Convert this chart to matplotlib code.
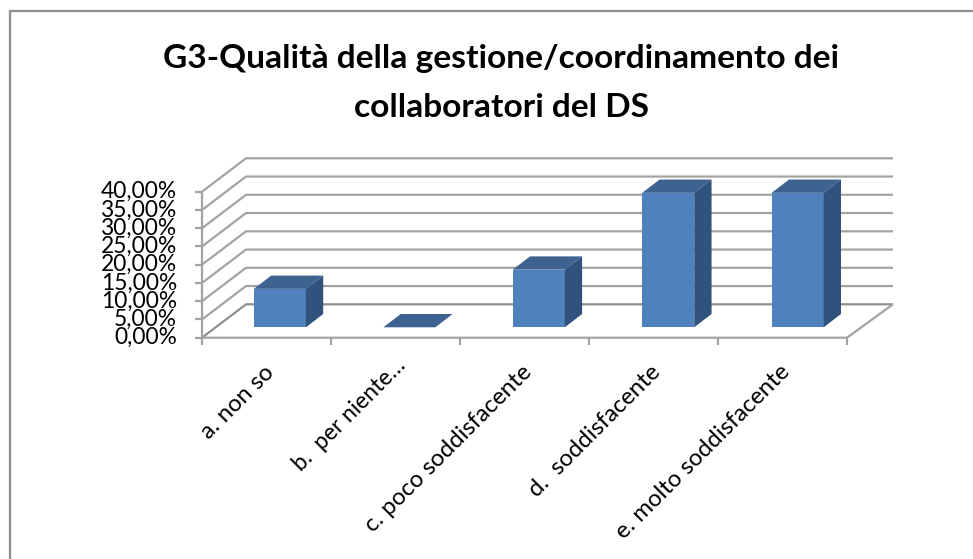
import matplotlib
matplotlib.use("Agg")
import matplotlib.pyplot as plt
from matplotlib.lines import Line2D
from matplotlib.patches import Polygon

categories = ["a. non so", "b.  per niente…", "c. poco soddisfacente",
              "d.  soddisfacente", "e. molto soddisfacente"]
values = [10.53, 0.0, 15.79, 36.84, 36.84]
y_ticks = [0, 5, 10, 15, 20, 25, 30, 35, 40]
y_labels = ["0,00%", "5,00%", "10,00%", "15,00%", "20,00%",
            "25,00%", "30,00%", "35,00%", "40,00%"]
title = "G3-Qualità della gestione/coordinamento dei\ncollaboratori del DS"

W, H = 973, 559
plt.rcParams['font.family'] = ['Lato', 'DejaVu Sans']
fig = plt.figure(figsize=(W / 100, H / 100), dpi=100)

# chart frame: only top and left edges fall inside the picture
fig.add_artist(Line2D([10 / W, 10 / W, 1.0], [0.0, 1 - 11.2 / H, 1 - 11.2 / H],
                      transform=fig.transFigure, color="#8F8F8F", lw=1.6,
                      solid_joinstyle="miter"))

L, R, T, B = 202, 847, 191.7, 337.7
ax = fig.add_axes([L / W, 1 - B / H, (R - L) / W, (B - T) / H])
ax.set_xlim(-0.5, 4.5)
ax.set_ylim(0, 40)
ax.axis("off")

ux = (R - L) / 5           # px per category
uy = (B - T) / 40          # px per value unit
dx_l, dx_r, dy = 44 / ux, 46 / ux, 33.4 / uy   # depth of the chart box
bx, by = 13.4 / ux, 10.4 / uy          # bar front-face offset
bdx, bdy = 17.3 / ux, 13.3 / uy        # bar depth
bw = 52 / ux
spread = 0.45 / ux

grid = "#A3A3A3"
kw = dict(color=grid, lw=1.6, clip_on=False, solid_capstyle="butt", zorder=1)
for v in y_ticks:
    ax.plot([-0.5, -0.5 + dx_l, 4.5 + dx_r], [v, v + dy, v + dy],
            **{**kw, "color": "#8F8F8F" if v == 0 else grid})
ax.plot([-0.5, -0.5], [0, 40], **kw)
ax.plot([-0.5, 4.5, 4.5 + dx_r], [0, 0, dy], **kw)

# ticks
tk = 7 / ux
tk_y = 7 / uy
for v, lab in zip(y_ticks, y_labels):
    ax.plot([-0.5 - tk, -0.5], [v, v], **kw)
    ax.text(-0.5 - 25 / ux, v, lab, ha="right", va="center", fontsize=16.4,
            color="#000000", clip_on=False)
for i in range(6):
    ax.plot([i - 0.5, i - 0.5], [0, -tk_y], **kw)

# bars
front, top_c, side_c = "#4F81BD", "#3E6391", "#31527C"
xs = [i + bx + i * spread for i in range(len(values))]
ax.bar(xs, values, width=bw, bottom=by, color=front, linewidth=0, clip_on=False, zorder=3)
for x, v in zip(xs, values):
    x0, x1, y0, y1 = x - bw / 2, x + bw / 2, by, by + v
    ax.add_patch(Polygon([(x0, y1), (x1, y1), (x1 + bdx, y1 + bdy), (x0 + bdx, y1 + bdy)],
                         closed=True, color=top_c, lw=0, clip_on=False, zorder=3))
    if v > 0:
        ax.add_patch(Polygon([(x1, y0), (x1 + bdx, y0 + bdy), (x1 + bdx, y1 + bdy), (x1, y1)],
                             closed=True, color=side_c, lw=0, clip_on=False, zorder=3))

# category labels (the truncated one sits higher and runs shorter in the original)
for i, c in enumerate(categories):
    truncated = c.endswith("…")
    ox, oy, fs = (7, -24, 16.4) if truncated else (4, -31, 17.2)
    ax.text(i + ox / ux, oy / uy, c, rotation=45, rotation_mode="anchor", ha="right", va="center",
            fontsize=fs, color="#000000", clip_on=False)

fig.text(501 / W, 1 - 83 / H, title, ha="center", va="center", fontsize=24.1,
         fontweight="bold", color="#000000", linespacing=1.8)

fig.savefig("out.png", dpi=100)
